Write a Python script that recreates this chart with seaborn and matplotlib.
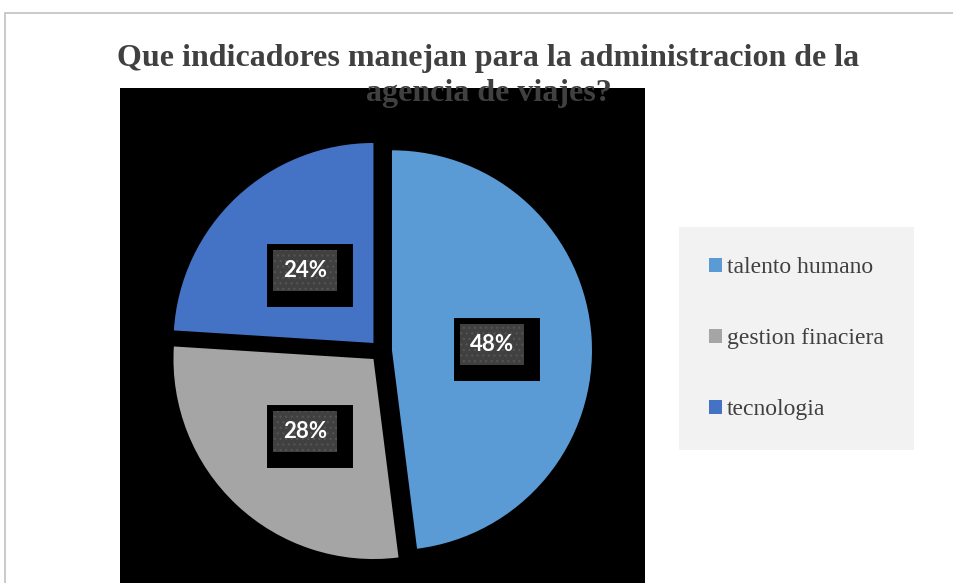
import matplotlib
matplotlib.use("Agg")
import matplotlib.pyplot as plt
import matplotlib.patheffects as pe
import seaborn as sns
from matplotlib.patches import Rectangle, Patch

# Survey answers: indicators used to manage the travel agency
categories = ["talento humano", "gestion finaciera", "tecnologia"]
shares = [48, 28, 24]
colors = ["#5B9BD5", "#A5A5A5", "#4472C4"]
title = "Que indicadores manejan para la administracion de la\nagencia de viajes?"

sns.set_theme(style="white")
plt.rcParams["font.family"] = ["Liberation Serif", "DejaVu Serif"]
plt.rcParams["hatch.linewidth"] = 0.8

W, H = 954, 583
fig = plt.figure(figsize=(W / 100, H / 100), dpi=100)
fig.patch.set_facecolor("white")

# thin outer frame of the chart area
fig.patches.append(Rectangle((5 / W, -0.05), 1.2, 1.05 - 13 / H,
                             transform=fig.transFigure, fill=False,
                             ec="#c6c6c6", lw=1.3))

# black plot area, working in pixel-like units
ax = fig.add_axes([120 / W, 0, 525 / W, 495 / H])
ax.set_facecolor("black")

wedges, texts, autotexts = ax.pie(
    shares, colors=colors, startangle=90, counterclock=False,
    explode=[11] * len(shares), radius=200, center=(381, 232),
    autopct="%1.0f%%", pctdistance=0.5, frame=True,
    wedgeprops=dict(linewidth=0),
)
ax.set_xlim(120, 645)
ax.set_ylim(0, 495)
ax.set_xticks([])
ax.set_yticks([])
for s in ax.spines.values():
    s.set_visible(False)

# percentage labels: dotted dark panel with a black offset backing
backing = pe.SimplePatchShadow(offset=(3.6, -3.6), shadow_rgbFace="black",
                               alpha=1.0, linewidth=15.8, foreground="black",
                               hatch=None, joinstyle="miter")
for t in autotexts:
    t.set(color="white", zorder=3, fontfamily=["Lato", "DejaVu Sans"],
          fontweight="bold", fontsize=16)
    t.set_bbox(dict(boxstyle="square,pad=0.45", fc="#404040", ec="#555555",
                    lw=0, hatch="..."))
    t.get_bbox_patch().set_path_effects([backing, pe.Normal()])

# legend panel on the right
handles = [Patch(facecolor=c, edgecolor="none") for c in colors]
fig.legend(handles, categories, loc="upper left",
           bbox_to_anchor=(679 / W, 1 - 227 / H), borderaxespad=0,
           frameon=True, fancybox=False, facecolor="#F2F2F2",
           edgecolor="none", framealpha=1,
           prop=dict(family="Liberation Serif", size=17),
           labelcolor="#404040", handlelength=0.55, handleheight=0.55,
           handletextpad=0.22, borderpad=1.27, labelspacing=2.12)

fig.text(488.5 / W, 1 - 76 / H, title, ha="center", va="center",
         fontsize=23, fontweight="bold", color="#404040",
         family="Liberation Serif", linespacing=1.27, zorder=5)

fig.savefig("out.png", dpi=100)
